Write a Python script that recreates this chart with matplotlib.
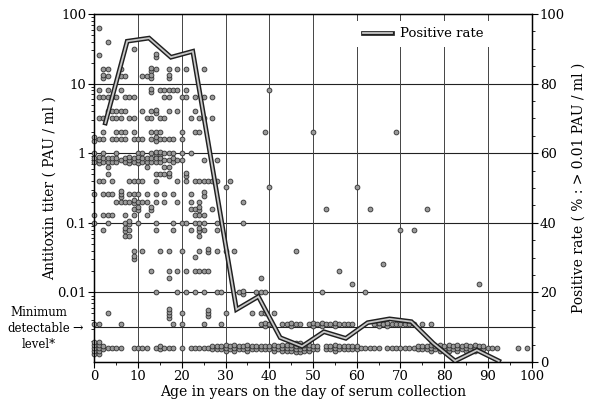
import numpy as np
import matplotlib
matplotlib.use("Agg")
import matplotlib.pyplot as plt
import matplotlib.patheffects as pe
from matplotlib.ticker import MultipleLocator, LogLocator, NullFormatter
from collections import Counter

plt.rcParams['font.family'] = ['DejaVu Serif']

# ---------------------------------------------------------------
# data : antitoxin titer (PAU/ml) level -> ages of the sera at that level
# ---------------------------------------------------------------
titer_levels = [64, 40, 32, 25.6, 16, 12.8, 8, 6.4, 4, 3.2, 2, 1.6, 1.0, 0.8,
                0.63, 0.5, 0.4, 0.33, 0.26, 0.2, 0.16, 0.13, 0.1, 0.08, 0.065,
                0.04, 0.032, 0.026, 0.02, 0.016, 0.013, 0.01, 0.005, 0.0035]
titer_ages = [
    [1],
    [3],
    [9],
    [1, 14, 14],
    [2, 3, 6, 13, 13, 14, 17, 19, 21, 25],
    [2, 2, 3, 6, 7, 11, 12, 13, 13, 17, 17],
    [1, 3, 6, 13, 13, 15, 16, 17, 18, 19, 21, 40],
    [1, 2, 3, 4, 5, 7, 8, 9, 16, 17, 20, 21, 23, 25, 27],
    [3, 4, 5, 6, 7, 11, 13, 14, 14, 17, 19, 23],
    [1, 2, 4, 5, 6, 8, 9, 12, 13, 15, 16, 22, 24, 25, 27],
    [2, 5, 6, 7, 9, 13, 14, 15, 20, 23, 24, 39, 50, 69],
    [0, 0, 1, 2, 4, 5, 6, 7, 9, 10, 11, 13, 14, 14, 15, 16, 17, 18, 20],
    [0, 2, 5, 10, 11, 13, 14, 14, 15, 15, 16, 17, 18, 20, 22],
    [0, 0, 1, 1, 1, 2, 2, 3, 3, 4, 4, 5, 5, 6, 7, 7, 8, 8, 8, 9, 9, 10, 10,
     10, 11, 11, 12, 12, 13, 13, 14, 14, 15, 15, 16, 17, 18, 18, 19, 20, 25, 28],
    [3, 12, 16, 17],
    [3, 14, 15, 16, 17, 17, 21, 21],
    [1, 2, 4, 8, 9, 10, 11, 14, 19, 21, 23, 24, 25, 26, 27, 28, 31],
    [30, 40, 60],
    [0, 2, 3, 4, 6, 6, 6, 8, 9, 10, 12, 14, 16, 18, 22, 25, 25],
    [5, 6, 7, 8, 9, 9, 10, 11, 12, 14, 16, 19, 22, 24, 34],
    [9, 10, 10, 13, 13, 22, 23, 24, 24, 27, 53, 63, 76],
    [0, 2, 3, 4, 7, 9, 12, 23, 24, 25],
    [0, 3, 7, 8, 8, 10, 14, 18, 20, 21, 23, 24, 25, 28, 34],
    [2, 7, 7, 8, 14, 18, 22, 24, 24, 25, 28, 70, 73],
    [7, 8, 24],
    [9, 11, 15, 17, 20, 24, 26, 26, 28, 30, 32, 46],
    [9, 9, 23],
    [66],
    [13, 17, 19, 21, 23, 24, 25, 26, 56],
    [17, 38],
    [59, 88],
    [14, 19, 21, 23, 25, 28, 29, 33, 34, 34, 37, 38, 39, 52, 62],
    [3, 17, 17, 17, 17, 20, 26, 26, 26, 30, 36, 38, 39, 41],
    [0, 1, 6, 18, 20, 25, 29, 38, 39, 39, 40, 43, 44, 45, 45, 46, 47, 49, 50,
     50, 51, 52, 52, 53, 54, 55, 55, 56, 57, 58, 59, 64, 65, 65, 66, 67, 67,
     68, 69, 70, 71, 72, 73, 75, 77],
]

# sera below the minimum detectable level : number of sera per age 0..99
neg_level = 0.0016
neg_counts = [5, 5, 2, 1, 1, 1, 1, 0, 0, 1, 1, 1, 1, 0, 1, 2, 1, 1, 1, 0,
              1, 0, 1, 1, 1, 1, 1, 2, 2, 2, 3, 2, 3, 2, 2, 3, 2, 2, 2, 2,
              2, 3, 2, 3, 3, 3, 4, 4, 3, 3, 2, 2, 0, 2, 2, 3, 2, 2, 2, 2,
              2, 1, 1, 1, 1, 1, 0, 1, 1, 1, 1, 1, 1, 1, 2, 2, 2, 3, 2, 3,
              2, 3, 2, 3, 2, 3, 2, 3, 2, 2, 1, 1, 1, 0, 0, 0, 0, 1, 0, 1]

# positive rate (% > 0.01 PAU/ml) by 5-year age group
rate_ages = [2.5, 7.5, 12.5, 17.5, 22.5, 27.5, 32.5, 37.5, 42.5, 47.5, 52.5,
             57.5, 62.5, 67.5, 72.5, 77.5, 82.5, 87.5, 92.5]
rate_vals = [68.7, 92.2, 93.1, 87.6, 89.3, 52.2, 15.1, 18.8, 7.0, 4.5, 8.7,
             6.8, 11.3, 12.4, 11.6, 5.4, 0.3, 3.4, 0.3]

min_level = 0.0032
step = 0.045  # vertical stacking of equal values (decades)

# ---------------------------------------------------------------
# build the stacked dot positions
# ---------------------------------------------------------------
xs, ys = [], []
for lev, ages in zip(titer_levels, titer_ages):
    for age, n in sorted(Counter(ages).items()):
        for k in range(n):
            xs.append(age)
            ys.append(lev * 10 ** ((k - (n - 1) / 2) * step))
for age, n in enumerate(neg_counts):
    for k in range(n):
        xs.append(age)
        ys.append(neg_level * 10 ** ((k - (n - 1) / 2) * step))

# ---------------------------------------------------------------
# figure
# ---------------------------------------------------------------
fig = plt.figure(figsize=(5.9, 4.05), dpi=100)
ax = fig.add_axes([0.160, 0.1062, 0.741, 0.859])
ax.set_yscale('log')
ax.set_xlim(0, 100)
ax.set_ylim(1e-3, 100)

for v in [10, 1, 0.1, 0.01, min_level]:
    ax.axhline(v, color='#222222', lw=0.8, zorder=1)
for v in range(10, 100, 10):
    ax.axvline(v, color='#444444', lw=0.7, zorder=1)

ax.scatter(xs, ys, s=12, c='#9a9a9a', edgecolors='#303030',
           linewidths=0.6, zorder=3, clip_on=False)

ax.set_yticks([0.01, 0.1, 1, 10, 100], labels=['0.01', '0.1', '1', '10', '100'])
ax.yaxis.set_minor_locator(LogLocator(base=10, subs=np.arange(2, 10)))
ax.yaxis.set_minor_formatter(NullFormatter())
ax.xaxis.set_major_locator(MultipleLocator(10))
ax.xaxis.set_minor_locator(MultipleLocator(5))
ax.tick_params(axis='both', which='major', direction='out', length=4,
               width=0.8, labelsize=9.5, pad=2)
ax.tick_params(axis='both', which='minor', direction='out', length=2.5, width=0.6)
for s in ax.spines.values():
    s.set_linewidth(1.0)

ax.set_xlabel('Age in years on the day of serum collection', fontsize=10, labelpad=1)
ax.set_ylabel('Antitoxin titer ( PAU / ml )', fontsize=10, labelpad=0)

# right axis : positive rate
ax2 = ax.twinx()
ax2.set_ylim(0, 100)
ax2.yaxis.set_major_locator(MultipleLocator(20))
ax2.yaxis.set_minor_locator(MultipleLocator(5))
ax2.tick_params(axis='y', which='major', direction='out', length=4,
                width=0.8, labelsize=9.5, pad=2)
ax2.tick_params(axis='y', which='minor', direction='out', length=2.5, width=0.6)
ax2.plot(rate_ages, rate_vals, color='#c8c8c8', lw=1.3, zorder=5,
         label='Positive rate', solid_joinstyle='miter',
         path_effects=[pe.Stroke(linewidth=3.4, foreground='#202020'), pe.Normal()])
ax2.set_ylabel('Positive rate ( % : > 0.01 PAU / ml )', fontsize=10, labelpad=5)

leg = ax2.legend(loc='upper left', bbox_to_anchor=(0.585, 1.0), fontsize=9.5,
                 handlelength=2.2, frameon=True, fancybox=False,
                 borderpad=0.5, handletextpad=0.6)
leg.get_frame().set_facecolor('white')
leg.get_frame().set_edgecolor('none')
leg.get_frame().set_alpha(1)

# minimum detectable level note
fig.text(0.066, 1 - 312 / 405, 'Minimum', ha='center', va='center', fontsize=8.5)
fig.text(0.066, 1 - 328 / 405, 'detectable', ha='center', va='center', fontsize=8.5)
fig.text(0.122, 1 - 328 / 405, '\u2192', ha='left', va='center', fontsize=9)
fig.text(0.066, 1 - 344 / 405, 'level*', ha='center', va='center', fontsize=8.5)

fig.savefig('out.png', dpi=100)
